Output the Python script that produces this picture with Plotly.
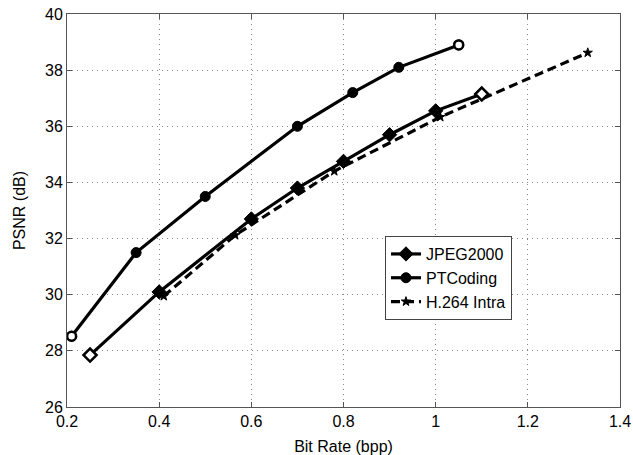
import plotly.graph_objects as go

# Data
jpeg_x = [0.25, 0.40, 0.60, 0.70, 0.80, 0.90, 1.00, 1.10]
jpeg_y = [27.85, 30.10, 32.70, 33.80, 34.75, 35.70, 36.55, 37.15]

pt_x = [0.21, 0.35, 0.50, 0.70, 0.82, 0.92, 1.05]
pt_y = [28.52, 31.50, 33.50, 36.00, 37.20, 38.10, 38.90]

h264_x = [0.41, 0.565, 0.78, 1.01, 1.33]
h264_y = [29.95, 32.12, 34.40, 36.33, 38.62]

x_ticks = [0.2, 0.4, 0.6, 0.8, 1.0, 1.2, 1.4]
x_tick_labels = ["0.2", "0.4", "0.6", "0.8", "1", "1.2", "1.4"]
y_ticks = [26, 28, 30, 32, 34, 36, 38, 40]

FONT = "Liberation Sans, Arial, sans-serif"
FS = 16

fig = go.Figure()
fig.add_trace(go.Scatter(
    x=jpeg_x, y=jpeg_y, name="JPEG2000", mode="lines+markers",
    line=dict(color="black", width=3.2),
    marker=dict(symbol="diamond", size=11, color="black",
                line=dict(color="black", width=1)),
))
fig.add_trace(go.Scatter(
    x=pt_x, y=pt_y, name="PTCoding", mode="lines+markers",
    line=dict(color="black", width=3.2),
    marker=dict(symbol="circle", size=10, color="black",
                line=dict(color="black", width=1)),
))
fig.add_trace(go.Scatter(
    x=h264_x, y=h264_y, name="H.264 Intra", mode="lines+markers",
    line=dict(color="black", width=3.2, dash="9px,5px"),
    marker=dict(symbol="star", size=7, color="black",
                line=dict(color="black", width=1)),
))
# hollow-looking end markers, as in the reference print
fig.add_trace(go.Scatter(
    x=[jpeg_x[0], jpeg_x[-1]], y=[jpeg_y[0], jpeg_y[-1]], mode="markers",
    showlegend=False, hoverinfo="skip",
    marker=dict(symbol="diamond", size=10, color="white",
                line=dict(color="black", width=2.5)),
))
fig.add_trace(go.Scatter(
    x=[pt_x[0], pt_x[-1]], y=[pt_y[0], pt_y[-1]], mode="markers",
    showlegend=False, hoverinfo="skip",
    marker=dict(symbol="circle", size=9, color="white",
                line=dict(color="black", width=2.5)),
))

axis_common = dict(
    showline=True, linecolor="#555", linewidth=1, mirror="allticks",
    ticks="inside", ticklen=5, tickcolor="#555",
    showgrid=True, gridcolor="#888", griddash="1px,4px", gridwidth=1,
    zeroline=False, automargin=False,
    tickfont=dict(family=FONT, size=FS, color="black"),
)

fig.update_xaxes(
    range=[0.2, 1.4], tickvals=x_ticks, ticktext=x_tick_labels,
    title=dict(text="Bit Rate (bpp)", font=dict(family=FONT, size=FS, color="black")),
    **axis_common,
)
fig.update_yaxes(
    range=[26, 40], tickvals=y_ticks,
    title=dict(text="PSNR (dB)", font=dict(family=FONT, size=FS, color="black")),
    **axis_common,
)

fig.update_layout(
    width=633, height=455,
    margin=dict(l=67, r=13, t=14, b=48),
    paper_bgcolor="white", plot_bgcolor="white",
    font=dict(family=FONT, size=FS, color="black"),
    legend=dict(
        x=0.575, y=0.435, xanchor="left", yanchor="top",
        bgcolor="white", bordercolor="#444", borderwidth=1,
        font=dict(family=FONT, size=FS, color="black"),
        tracegroupgap=0, itemsizing="trace",
    ),
    showlegend=True,
)

fig.write_html("out.html")
